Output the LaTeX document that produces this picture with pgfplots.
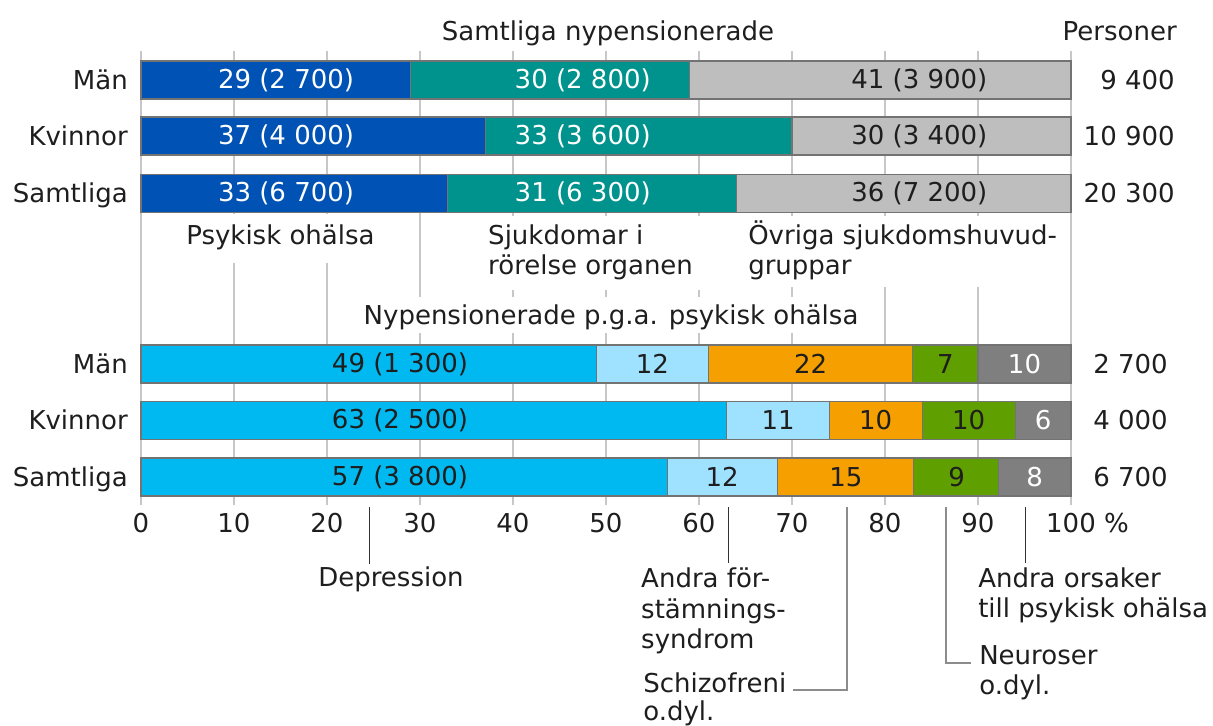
\documentclass[border=0pt]{standalone}
\usepackage{fontspec}
\setmainfont{DejaVu Sans}
\usepackage{pgfplots}
\usepackage{pgfplotstable}
\pgfplotsset{compat=1.18}
\definecolor{cA}{HTML}{0052B4}
\definecolor{cB}{HTML}{00928C}
\definecolor{cC}{HTML}{BEBEBE}
\definecolor{cD}{HTML}{00B9F0}
\definecolor{cE}{HTML}{9FE2FF}
\definecolor{cF}{HTML}{F5A000}
\definecolor{cG}{HTML}{5F9F00}
\definecolor{cH}{HTML}{7F7F7F}
\definecolor{txt}{HTML}{1E1E1E}

\pgfplotstableread{
y a b c d e f g h
80 29 30 41 0 0 0 0 0
136 37 33 30 0 0 0 0 0
193.5 33 31 36 0 0 0 0 0
364 0 0 0 49 12 22 7 10
420.5 0 0 0 63 11 10 10 6
477 0 0 0 56.6 11.8 14.7 9.1 7.8
}\bars

\pgfplotstableread[col sep=comma]{
x,y,t
15.6,80,29 (2 700)
47.5,80,30 (2 800)
15.6,136,37 (4 000)
47.5,136,33 (3 600)
15.6,193.5,33 (6 700)
47.5,193.5,31 (6 300)
95,364,10
97,420.5,6
96.1,477,8
}\whitelabels

\pgfplotstableread[col sep=comma]{
x,y,t
83.7,80,41 (3 900)
83.7,136,30 (3 400)
83.7,193.5,36 (7 200)
27.85,364,49 (1 300)
55,364,12
72,364,22
86.5,364,7
27.85,420.5,63 (2 500)
68.5,420.5,11
79,420.5,10
89,420.5,10
27.85,477,57 (3 800)
62.5,477,12
75.8,477,15
87.7,477,9
}\darklabels

\begin{document}
\begin{tikzpicture}[font=\fontsize{19.5}{22}\selectfont, text=txt]
\begin{axis}[
  scale only axis, width=697.5pt, height=340.5pt,
  xmin=0, xmax=100, ymin=51, ymax=505, y dir=reverse,
  axis line style={draw=none},
  xmajorgrids, grid style={draw=black!22, line width=1.1pt},
  xtick={0,10,...,100},
  xticklabels={0,10,20,30,40,50,60,70,80,90,100\rlap{\ \%}},
  ytick={80,136,193.5,364,420.5,477},
  yticklabels={Män,Kvinnor,Samtliga,Män,Kvinnor,Samtliga},
  major tick length=0pt,
  xticklabel style={anchor=base, yshift=-20.25pt, inner sep=0pt},
  yticklabel style={anchor=base east, xshift=-9.75pt, yshift=-6.9pt, inner sep=0pt},
  clip=false,
  bar width=38,
]
\addplot[xbar stacked, bar shift=0pt, fill=cA, draw=black!55, line width=0.8pt] table[x=a, y=y] {\bars};
\addplot[xbar stacked, bar shift=0pt, fill=cB, draw=black!55, line width=0.8pt] table[x=b, y=y] {\bars};
\addplot[xbar stacked, bar shift=0pt, fill=cC, draw=black!55, line width=0.8pt] table[x=c, y=y] {\bars};
\addplot[xbar stacked, bar shift=0pt, fill=cD, draw=black!55, line width=0.8pt] table[x=d, y=y] {\bars};
\addplot[xbar stacked, bar shift=0pt, fill=cE, draw=black!55, line width=0.8pt] table[x=e, y=y] {\bars};
\addplot[xbar stacked, bar shift=0pt, fill=cF, draw=black!55, line width=0.8pt] table[x=f, y=y] {\bars};
\addplot[xbar stacked, bar shift=0pt, fill=cG, draw=black!55, line width=0.8pt] table[x=g, y=y] {\bars};
\addplot[xbar stacked, bar shift=0pt, fill=cH, draw=black!55, line width=0.8pt] table[x=h, y=y] {\bars};

\addplot[draw=none, mark=none, nodes near coords, point meta=explicit symbolic,
  every node near coord/.append style={anchor=center, inner sep=0pt, text=white}]
  table[x=x, y=y, meta=t] {\whitelabels};
\addplot[draw=none, mark=none, nodes near coords, point meta=explicit symbolic,
  every node near coord/.append style={anchor=center, inner sep=0pt, text=txt}]
  table[x=x, y=y, meta=t] {\darklabels};

% white boxes masking the grid behind labels
\fill[white] (axis cs:3.98,214) rectangle (axis cs:26.24,263);
\fill[white] (axis cs:36.45,216) rectangle (axis cs:60.43,290);
\fill[white] (axis cs:64.4,216) rectangle (axis cs:99.46,287);
\fill[white] (axis cs:23.0,297) rectangle (axis cs:78.17,333);

% titles
\node[anchor=base, inner sep=0pt] at (axis cs:50.22,40) {Samtliga nypensionerade};
\node[anchor=base east, inner sep=0pt] at (axis cs:111.4,40) {Personer};
\node[anchor=base, inner sep=0pt] at (axis cs:50.54,324) {Nypensionerade p.g.a. psykisk ohälsa};

% right totals
\node[anchor=base east, inner sep=0pt] at (axis cs:111.18,89) {9 400};
\node[anchor=base east, inner sep=0pt] at (axis cs:111.18,145) {10 900};
\node[anchor=base east, inner sep=0pt] at (axis cs:111.18,202.5) {20 300};
\node[anchor=base east, inner sep=0pt] at (axis cs:110.43,373) {2 700};
\node[anchor=base east, inner sep=0pt] at (axis cs:110.43,429.5) {4 000};
\node[anchor=base east, inner sep=0pt] at (axis cs:110.43,486) {6 700};

% top legend labels
\node[anchor=base west, inner sep=0pt] at (axis cs:4.84,244) {Psykisk ohälsa};
\node[anchor=base west, inner sep=0pt] at (axis cs:37.31,244) {Sjukdomar i};
\node[anchor=base west, inner sep=0pt] at (axis cs:37.31,274) {rörelse organen};
\node[anchor=base west, inner sep=0pt] at (axis cs:65.27,244) {Övriga sjukdomshuvud-};
\node[anchor=base west, inner sep=0pt] at (axis cs:65.27,274) {gruppar};

% bottom annotation lines
\draw[black!80, line width=0.75pt] (axis cs:24.62,507) -- (axis cs:24.62,564);
\draw[black!80, line width=0.75pt] (axis cs:63.12,507) -- (axis cs:63.12,563);
\draw[black!45, line width=1.5pt] (axis cs:75.91,507) -- (axis cs:75.91,690) -- (axis cs:70.11,690);
\draw[black!45, line width=1.5pt] (axis cs:86.56,507) -- (axis cs:86.56,663) -- (axis cs:89.25,663);
\draw[black!80, line width=0.75pt] (axis cs:95.16,507) -- (axis cs:95.16,563);

% bottom annotation texts
\node[anchor=base, inner sep=0pt] at (axis cs:26.88,586) {Depression};
\node[anchor=base west, inner sep=0pt] at (axis cs:53.76,587) {Andra för-};
\node[anchor=base west, inner sep=0pt] at (axis cs:53.76,618) {stämnings-};
\node[anchor=base west, inner sep=0pt] at (axis cs:53.76,648) {syndrom};
\node[anchor=base west, inner sep=0pt] at (axis cs:53.98,692) {Schizofreni};
\node[anchor=base west, inner sep=0pt] at (axis cs:53.98,720) {o.dyl.};
\node[anchor=base west, inner sep=0pt] at (axis cs:90.11,664) {Neuroser};
\node[anchor=base west, inner sep=0pt] at (axis cs:90.11,694) {o.dyl.};
\node[anchor=base west, inner sep=0pt] at (axis cs:90.0,587) {Andra orsaker};
\node[anchor=base west, inner sep=0pt] at (axis cs:90.0,617) {till psykisk ohälsa};

\coordinate (bbA) at (axis cs:-15.161,725);
\coordinate (bbB) at (axis cs:115.269,0);
\end{axis}
\pgfresetboundingbox
\useasboundingbox (bbA) rectangle (bbB);
\end{tikzpicture}
\end{document}
